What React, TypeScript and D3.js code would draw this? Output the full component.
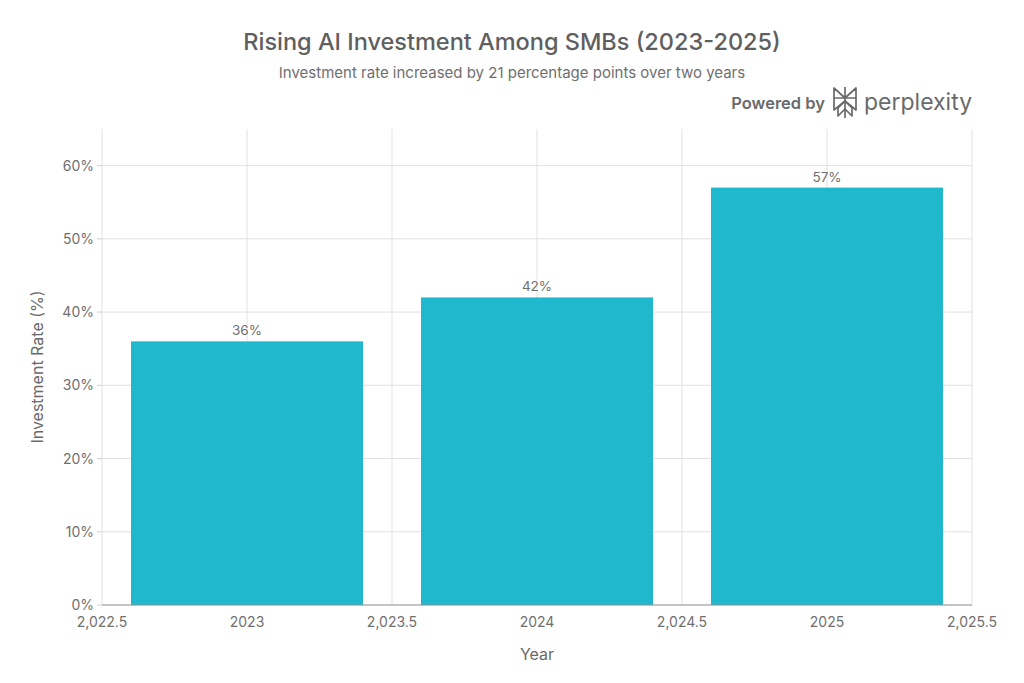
import * as d3 from "d3"

const years = [2023, 2024, 2025]
const rates = [36, 42, 57]
const yTicks = [0, 10, 20, 30, 40, 50, 60]
const xTicks = [2022.5, 2023, 2023.5, 2024, 2024.5, 2025, 2025.5]

const W = 1024
const H = 683
const margin = { left: 102, right: 52, top: 129, bottom: 78 }
const font = "Inter, 'Noto Sans', sans-serif"

const fmtX = (v: number) => Number.isInteger(v) ? String(v) : d3.format(",.1f")(v)

export default function App() {
    const x = d3.scaleLinear().domain([2022.5, 2025.5]).range([margin.left, W - margin.right])
    const y = d3.scaleLinear().domain([0, 65]).range([H - margin.bottom, margin.top])
    const barW = 0.8

    return (
        <svg width={W} height={H} style={{ position: "absolute", left: 0, top: 0, background: "white" }}>
            <text x={512} y={50} textAnchor="middle" fontFamily={font} fontSize={23.5} fontWeight={500} fill="#5f5f5f">
                Rising AI Investment Among SMBs (2023-2025)
            </text>
            <text x={512} y={78} textAnchor="middle" fontFamily={font} fontSize={15} fill="#6f6f6f">
                Investment rate increased by 21 percentage points over two years
            </text>

            {/* powered by */}
            <text x={825} y={109} textAnchor="end" fontFamily={font} fontSize={16.5} fontWeight={600} fill="#6a6a6a">Powered by</text>
            <g transform="translate(832, 87)" stroke="#6a6a6a" strokeWidth={1.7} fill="none" strokeLinejoin="round">
                <line x1={13} y1={0} x2={13} y2={31} />
                <path d="M2 1 L13 11 L24 1 L24 11 L2 11 Z" />
                <path d="M2 11 L2 23 L13 14 L24 23 L24 11" />
                <path d="M13 14 L6 21 L6 29 L13 22 L20 29 L20 21 Z" />
            </g>
            <text x={864} y={110} fontFamily={font} fontSize={23} fill="#6a6a6a">perplexity</text>

            {/* grid */}
            {yTicks.filter(t => t > 0).map(t => (
                <line key={"gy" + t} x1={margin.left} x2={W - margin.right} y1={y(t)} y2={y(t)} stroke="#e1e1e1" />
            ))}
            {xTicks.map(t => (
                <line key={"gx" + t} x1={x(t)} x2={x(t)} y1={margin.top} y2={y(0)} stroke="#e1e1e1" />
            ))}

            {/* bars */}
            {years.map((yr, i) => (
                <g key={yr}>
                    <rect x={x(yr - barW / 2)} width={x(yr + barW / 2) - x(yr - barW / 2)} y={y(rates[i])}
                          height={y(0) - y(rates[i])} fill="#1FB8CD" />
                    <text x={x(yr)} y={y(rates[i]) - 6} textAnchor="middle" fontFamily={font} fontSize={13.5} fill="#707070">
                        {rates[i]}%
                    </text>
                </g>
            ))}

            {/* axes */}
            <line x1={margin.left} x2={W - margin.right} y1={y(0)} y2={y(0)} stroke="#8a8a8a" strokeWidth={1.2} />
            {yTicks.map(t => (
                <g key={"ty" + t}>
                    <line x1={margin.left - 5} x2={margin.left} y1={y(t)} y2={y(t)} stroke="#cfcfcf" />
                    <text x={margin.left - 8} y={y(t) + 5} textAnchor="end" fontFamily={font} fontSize={14} fill="#707070">{t}%</text>
                </g>
            ))}
            {xTicks.map(t => (
                <text key={"tx" + t} x={x(t)} y={y(0) + 22} textAnchor="middle" fontFamily={font} fontSize={14} fill="#707070">{fmtX(t)}</text>
            ))}
            <text x={537} y={660} textAnchor="middle" fontFamily={font} fontSize={16} fill="#6a6a6a">Year</text>
            <text transform={`translate(43, ${(margin.top + y(0)) / 2}) rotate(-90)`} textAnchor="middle" fontFamily={font}
                  fontSize={16} fill="#6a6a6a">Investment Rate (%)</text>
        </svg>
    )
}
